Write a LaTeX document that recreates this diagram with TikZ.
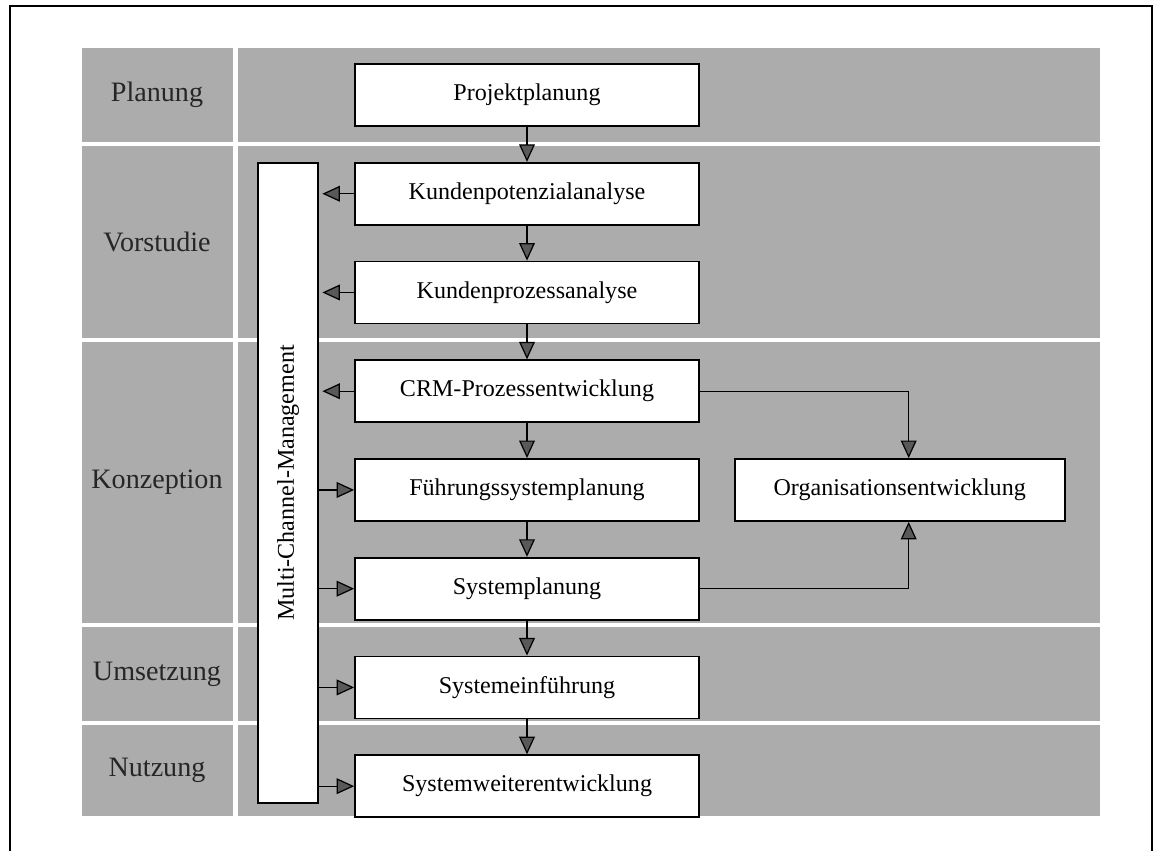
\documentclass[tikz,border=0pt]{standalone}
\usepackage{fontspec}
\setmainfont{Liberation Serif}
\usetikzlibrary{arrows.meta}
\usetikzlibrary{positioning}
\definecolor{raster}{RGB}{172,172,172}

\begin{document}
\begin{tikzpicture}[
  x=0.02cm, y=-0.02cm,
  font=\fontsize{13.7}{16}\selectfont,
  band/.style={fill=raster},
  phase/.style={font=\fontsize{16}{19}\selectfont,text=black!85},
  task/.style={draw,line width=1pt,fill=white,inner sep=0pt,
    minimum width=6.88cm,minimum height=1.24cm},
  flow/.style={-{Triangle[length=10pt,width=9pt,fill=black!65]},line width=0.7pt},
  node distance=0.7cm]

  \useasboundingbox (0,0) rectangle (1155,851);
  \draw[line width=1.2pt] (10,851) |- (1152,6) -- (1152,851);

  % Phase bands with their labels
  \foreach \ya/\yb/\phasename/\i in {48/142/Planung/1, 146/338/Vorstudie/2,
      342/623/Konzeption/3, 627/721/Umsetzung/4, 725/816/Nutzung/5}{
    \fill[band] (82,\ya) rectangle (233,\yb);
    \fill[band] (238,\ya) rectangle (1100,\yb);
    \node[phase] (ph\i) at (157,{(\ya+\yb)/2}) {\phasename};
  }

  % Process steps
  \node[task] (proj) at (527,95) {Projektplanung};
  \node[task,below=of proj] (kpa) {Kundenpotenzialanalyse};
  \node[task,below=of kpa] (kpr) {Kundenprozessanalyse};
  \node[task,below=of kpr] (crm) {CRM-Prozessentwicklung};
  \node[task,below=of crm] (fsp) {F\"uhrungssystemplanung};
  \node[task,below=of fsp] (sp) {Systemplanung};
  \node[task,below=of sp] (se) {Systemeinf\"uhrung};
  \node[task,below=of se] (swe) {Systemweiterentwicklung};
  \node[task,minimum width=6.6cm,right=0.68cm of fsp] (org) {Organisationsentwicklung};
  \node[task,minimum width=1.2cm,minimum height=12.8cm] (mcm) at (288,483)
    {\rotatebox{90}{Multi-Channel-Management}};

  % Main sequence
  \draw[flow] (proj) -- (kpa);
  \draw[flow] (kpa) -- (kpr);
  \draw[flow] (kpr) -- (crm);
  \draw[flow] (crm) -- (fsp);
  \draw[flow] (fsp) -- (sp);
  \draw[flow] (sp) -- (se);
  \draw[flow] (se) -- (swe);

  % Links to multi-channel management
  \foreach \n in {kpa,kpr,crm}
    \draw[flow,shorten >=2pt] (\n.west) -- (\n.west -| mcm.east);
  \foreach \n in {fsp,sp,se,swe}
    \draw[flow] (\n.west -| mcm.east) -- (\n.west);

  % Links to organisation
  \draw[flow] (crm.east) -| ([xshift=0.18cm]org.north);
  \draw[flow] (sp.east) -| ([xshift=0.18cm]org.south);
\end{tikzpicture}
\end{document}
